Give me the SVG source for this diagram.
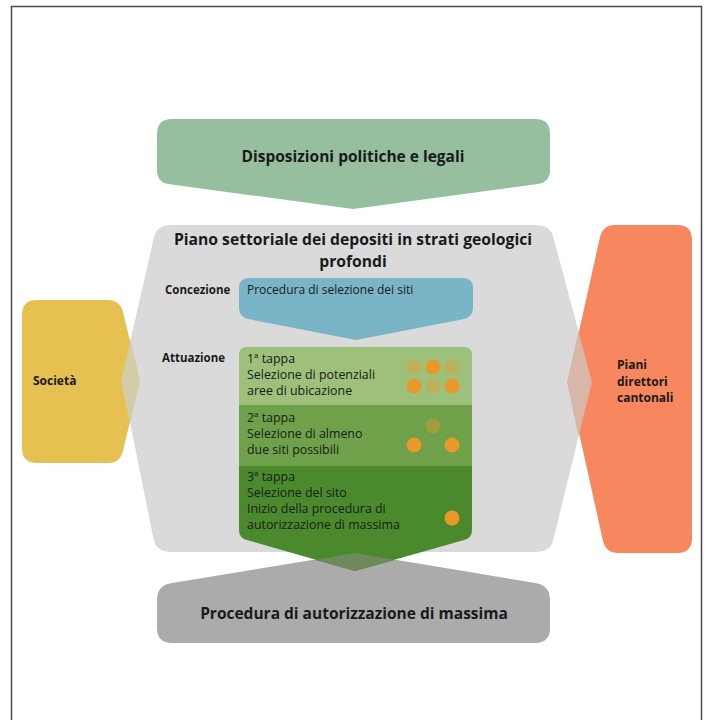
<svg xmlns="http://www.w3.org/2000/svg" width="705" height="720" viewBox="0 0 705 720">
<style>
text{font-family:"Open Sans","Noto Sans","DejaVu Sans",sans-serif;fill:#1a1a1a}
.big{font-size:15.5px;font-weight:bold}
.lab{font-size:11.5px;font-weight:bold}
.side{font-size:12px;font-weight:bold}
.t{font-size:12px}
.tb{font-size:12.4px}
.dot{fill:#EA982A}
.pale{fill:#EA982A;fill-opacity:0.4}
</style>
<rect width="705" height="720" fill="#ffffff"/>
<path d="M11.5,720 V6.5 H701.5 V720" fill="none" stroke="#4a4a4a" stroke-width="1.5"/>

<g id="main">
<path d="M172,225 H535 Q550,225 553,236 L589,370 Q592,382 589,394 L553,541 Q550,552 535,552 H172 Q157,552 154,541 L124,393 Q121,381 124,369 L154,237 Q157,225 172,225 Z" fill="#DADADA"/>
<text class="big" text-anchor="middle" style="font-size:15.7px"><tspan x="353" y="245">Piano settoriale dei depositi in strati geologici</tspan><tspan x="353" y="266.5">profondi</tspan></text>
<text class="lab" x="165" y="294">Concezione</text>
<text class="lab" x="162" y="362">Attuazione</text>
</g>

<g id="societa">
<path d="M37,300 H108 Q120,300 123,312 L138,374 Q140,381 138,388 L123,451 Q120,463 108,463 H37 Q22,463 22,448 V315 Q22,300 37,300 Z" fill="#E6C152"/>
<polygon points="121,381 130.5,340 140,381 130,424" fill="#D4CCA8"/>
<text class="side" x="33" y="385">Società</text>
</g>

<g id="piani">
<path d="M618,225 H677 Q692,225 692,240 V538 Q692,553 677,553 H618 Q606,553 603,541 L570,392 Q567,382 570,372 L600,237 Q603,225 615,225 Z" fill="#F7875F"/>
<polygon points="567,382 578.5,331.7 592,382 578.5,436.6" fill="#D9B6A8"/>
<text class="side"><tspan x="617" y="369">Piani</tspan><tspan x="617" y="386">direttori</tspan><tspan x="617" y="402">cantonali</tspan></text>
</g>

<g id="disposizioni">
<path d="M172,119 H535 Q550,119 550,134 V170 Q550,182 538,184 L353,209 L168,184 Q157,182 157,170 V134 Q157,119 172,119 Z" fill="#95BF9E"/>
<text class="big" x="353" y="162" text-anchor="middle">Disposizioni politiche e legali</text>
</g>

<g id="concezione">
<path d="M249,278 H463 Q473,278 473,288 V308 Q473,317 464,319 L356,340 L248,319 Q239,317 239,308 V288 Q239,278 249,278 Z" fill="#79B5C6"/>
<text class="t" x="247" y="294">Procedura di selezione dei siti</text>
</g>

<g id="procedura">
<path d="M172,583 L355,553 L535,583 Q550,585 550,600 V628 Q550,643 535,643 H172 Q157,643 157,628 V600 Q157,585 172,583 Z" fill="#ABABAB"/>
<text class="big" x="354" y="619" text-anchor="middle">Procedura di autorizzazione di massima</text>
</g>

<g id="tappa1">
<path d="M247,347 H464 Q472,347 472,355 V405 H239 V355 Q239,347 247,347 Z" fill="#9DC07A"/>
<text class="tb"><tspan x="247" y="363">1ª tappa</tspan><tspan x="247" y="379">Selezione di potenziali</tspan><tspan x="247" y="395">aree di ubicazione</tspan></text>
<circle class="pale" cx="414" cy="367" r="7.5"/>
<circle class="dot" cx="433" cy="367" r="7.5"/>
<circle class="pale" cx="452" cy="367" r="7.5"/>
<circle class="dot" cx="414" cy="386" r="7.5"/>
<circle class="pale" cx="433" cy="386" r="7.5"/>
<circle class="dot" cx="452" cy="386" r="7.5"/>
</g>

<g id="tappa2">
<rect x="239" y="405" width="233" height="61" fill="#6FA14B"/>
<text class="tb"><tspan x="247" y="422">2ª tappa</tspan><tspan x="247" y="438">Selezione di almeno</tspan><tspan x="247" y="454">due siti possibili</tspan></text>
<circle class="pale" cx="433" cy="426" r="7.5"/>
<circle class="dot" cx="414" cy="445" r="7.5"/>
<circle class="dot" cx="452" cy="445" r="7.5"/>
</g>

<g id="tappa3">
<path d="M239,466 H472 V530 Q472,538 464,540 L355,571 L247,540 Q239,538 239,530 Z" fill="#4A8A2C"/>
<polygon points="355,553 395,560 355,571 315,560" fill="#6E8A5C"/>
<text class="tb"><tspan x="247" y="481">3ª tappa</tspan><tspan x="247" y="497">Selezione del sito</tspan><tspan x="247" y="513">Inizio della procedura di</tspan><tspan x="247" y="529">autorizzazione di massima</tspan></text>
<circle class="dot" cx="452" cy="518" r="7.5"/>
</g>

<g id="connectors"></g>
</svg>
